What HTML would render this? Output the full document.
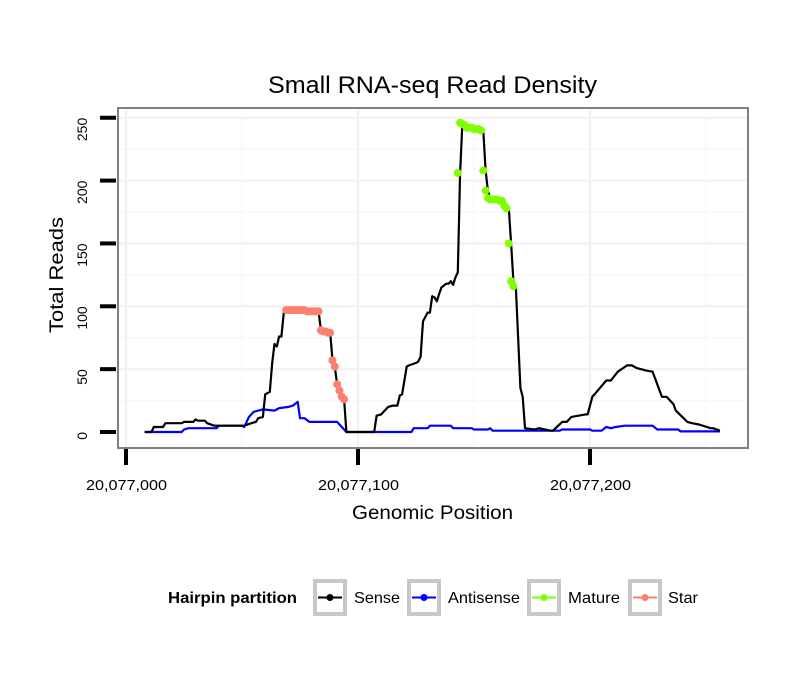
<!DOCTYPE html>
<html><head><meta charset="utf-8"><style>
body{margin:0;background:#fff}
svg text{font-family:"Liberation Sans",sans-serif}
</style></head><body>
<svg id="chart" width="810" height="690" xmlns="http://www.w3.org/2000/svg">
<rect width="810" height="690" fill="#fff"/>
<text x="268" y="93" font-size="24" textLength="329" lengthAdjust="spacingAndGlyphs">Small RNA-seq Read Density</text>
<text x="0" y="0" font-size="19" text-anchor="middle" textLength="116" lengthAdjust="spacingAndGlyphs" transform="translate(63,275) rotate(-90)">Total Reads</text>
<text x="352" y="519" font-size="19" textLength="161" lengthAdjust="spacingAndGlyphs">Genomic Position</text>
<g id="grid"></g>
<g id="marks"></g>
<rect x="118" y="108" width="630" height="340" fill="none" stroke="#808080" stroke-width="2"/>
<g id="axes"></g>
<g font-size="16">
<text x="168" y="603" font-weight="bold" textLength="129" lengthAdjust="spacingAndGlyphs">Hairpin partition</text>
<g><rect x="315" y="581" width="30" height="33" fill="#fff" stroke="#c8c8c8" stroke-width="4"/><line x1="318" y1="597.5" x2="342" y2="597.5" stroke="#000" stroke-width="2"/><circle cx="330" cy="597.5" r="3.5" fill="#000"/><text x="354" y="603" textLength="46" lengthAdjust="spacingAndGlyphs">Sense</text></g>
<g><rect x="409" y="581" width="30" height="33" fill="#fff" stroke="#c8c8c8" stroke-width="4"/><line x1="412" y1="597.5" x2="436" y2="597.5" stroke="#0000ff" stroke-width="2"/><circle cx="424" cy="597.5" r="3.5" fill="#0000ff"/><text x="448" y="603" textLength="72" lengthAdjust="spacingAndGlyphs">Antisense</text></g>
<g><rect x="529" y="581" width="30" height="33" fill="#fff" stroke="#c8c8c8" stroke-width="4"/><line x1="532" y1="597.5" x2="556" y2="597.5" stroke="#7fff00" stroke-width="2"/><circle cx="544" cy="597.5" r="3.5" fill="#7fff00"/><text x="568" y="603" textLength="52" lengthAdjust="spacingAndGlyphs">Mature</text></g>
<g><rect x="630" y="581" width="30" height="33" fill="#fff" stroke="#c8c8c8" stroke-width="4"/><line x1="633" y1="597.5" x2="657" y2="597.5" stroke="#fa8072" stroke-width="2"/><circle cx="645" cy="597.5" r="3.5" fill="#fa8072"/><text x="668" y="603" textLength="30" lengthAdjust="spacingAndGlyphs">Star</text></g>
</g>
</svg>
<script>
const xTicks=[0,100,200];
const xTickLabels=["20,077,000","20,077,100","20,077,200"];
const yTicks=[0,50,100,150,200,250];
const sensePos=[8,11,12,16,17,24,25,29,30,31,34,35,38,51,54,56,57,59,60,62,63,64,65,66,67,68,69,83,84,88,89,90,91,92,93,94,95,107,108,110,111,113,115,117,118,119,121,122,125,126,127,128,130,131,132,133,134,135,136,138,139,140,141,142,143,144,145,146,147,148,149,150,151,152,153,154,155,156,157,158,159,160,161,162,163,164,165,166,167,168,170,171,172,176,178,183,184,188,190,192,198,199,201,202,207,209,212,216,218,220,224,227,231,233,236,237,242,244,247,252,253,256];
const senseVal=[0,0,4,4,7,7,8,8,10,9,9,7,5,5,7,8,11,12,30,32,55,70,68,76,76,95,97,96,81,79,57,52,38,33,28,26,0,0,13,14,16,20,21,21,29,30,52,53,55,56,60,88,95,95,108,107,104,110,115,118,118,120,117,123,127,206,246,245,244,242,242,242,241,241,241,240,208,192,186,185,185,185,185,184,184,180,178,150,120,116,35,28,3,2,3,1,1,8,8,12,14,14,28,30,41,41,48,53,53,51,49,48,28,28,22,17,8,7,6,3,3,1,1];
const antiPos=[8,24,25,27,39,40,50,51,52,53,55,59,64,66,70,72,74,75,77,79,91,95,123,124,130,131,140,141,149,150,156,157,158,187,188,200,201,205,207,209,211,215,227,229,238,239,256];
const antiVal=[0,0,2,3,3,5,5,4,8,12,16,18,17,19,20,21,24,11,11,8,8,0,0,3,3,5,5,3,3,2,2,3,1,1,2,2,1,1,4,3,4,5,5,2,2,0.5,0.5];
const maturePos=[143,144,145,146,147,148,149,150,151,152,153,154,155,156,157,158,159,160,161,162,163,164,165,166,167];
const matureVal=[206,246,245,244,242,242,242,241,241,241,240,208,192,186,185,185,185,185,184,184,180,178,150,120,116];
const starPos=[69,70,71,72,73,74,75,76,77,78,79,80,81,82,83,84,85,86,87,88,89,90,91,92,93,94];
const starVal=[97,97,97,97,97,97,97,97,97,96,96,96,96,96,96,81,80,80,79,79,57,52,38,33,28,26];

const X=p=>126+2.32*p;
const Y=v=>432-1.257*v;
const NS="http://www.w3.org/2000/svg";
function mk(tag,attrs,parent){const e=document.createElementNS(NS,tag);for(const k in attrs)e.setAttribute(k,attrs[k]);parent.appendChild(e);return e;}
const grid=document.getElementById('grid'),marks=document.getElementById('marks'),axes=document.getElementById('axes');
for(let v=25;v<=275;v+=25){const y=Y(v);if(y<109)continue;const l=mk('line',{x1:119,x2:747,y1:y,y2:y,stroke:v%50?'#f8f8f8':'#f2f2f2','stroke-width':v%50?1.5:2.5},grid);

}
for(let p=-50;p<=300;p+=50){const x=X(p);if(x<119||x>747)continue;const l=mk('line',{x1:x,x2:x,y1:109,y2:447,stroke:p%100?'#f8f8f8':'#f2f2f2','stroke-width':p%100?1.5:2.5},grid);

}
yTicks.forEach(v=>{const y=Y(v);const t=mk('line',{x1:100,x2:116,y1:y,y2:y,stroke:'#000','stroke-width':4},axes);


const tx=mk('text',{transform:`translate(87,${y}) rotate(-90)`,'font-size':14,'text-anchor':'end',fill:'#000'},axes);tx.textContent=v;

});
xTicks.forEach((p,i)=>{const x=X(p);const t=mk('line',{x1:x,x2:x,y1:449,y2:465,stroke:'#000','stroke-width':4},axes);


const tx=mk('text',{x:x-40,y:490,'font-size':15,textLength:81,lengthAdjust:'spacingAndGlyphs'},axes);tx.textContent=xTickLabels[i];

});
function line(pos,val,color,name){const d=pos.map((p,i)=>(i?'L':'M')+X(p).toFixed(1)+','+Y(val[i]).toFixed(1)).join('');const e=mk('path',{d:d,fill:'none',stroke:color,'stroke-width':2.2,'stroke-linejoin':'round'},marks);

}
function pts(pos,val,color,name){pos.forEach((p,i)=>{const c=mk('circle',{cx:X(p),cy:Y(val[i]),r:4,fill:color},marks);

});}
line(antiPos,antiVal,'#0000ff','antisense-line');
line(sensePos,senseVal,'#000','sense-line');
pts(maturePos,matureVal,'#7fff00','mature-point');
pts(starPos,starVal,'#fa8072','star-point');
</script>
</body></html>
